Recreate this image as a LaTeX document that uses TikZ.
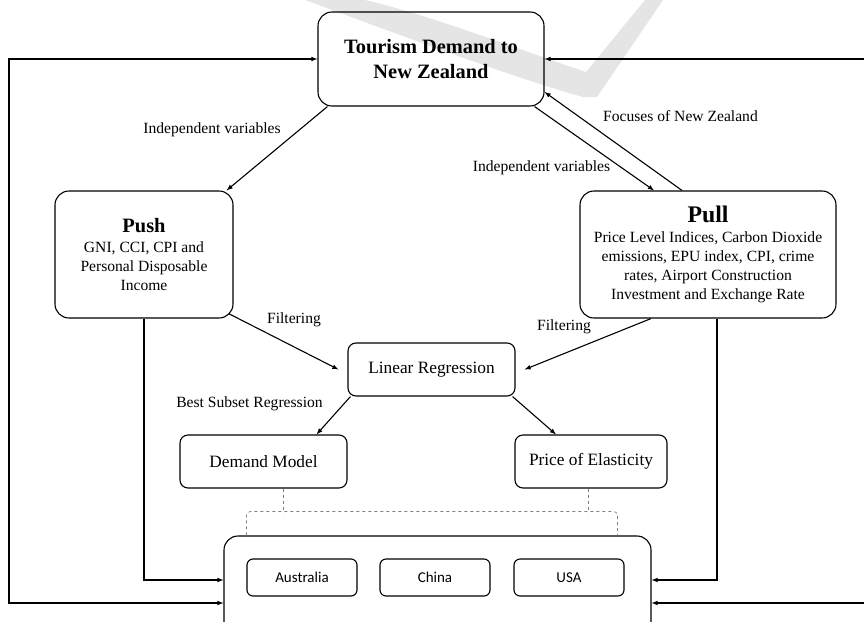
\documentclass[tikz,border=0pt]{standalone}
\usepackage{fontspec}
\setmainfont{Liberation Serif}
\newfontfamily\calib{Carlito}
\tikzset{>=latex}
\tikzset{
  box/.style = {draw, line width=1.1pt, rounded corners=14pt, align=center},
  smallbox/.style = {draw, line width=1.1pt, rounded corners=8pt, align=center,
    minimum height=53pt, font=\fontsize{17.3}{21}\selectfont},
  land/.style = {draw, line width=1.1pt, rounded corners=6pt, minimum width=110pt,
    minimum height=37pt, font=\calib\fontsize{15}{18}\selectfont},
  tag/.style = {font=\fontsize{15.6}{19}\selectfont, inner sep=0pt},
  link/.style = {->, line width=1.1pt},
  brace/.style = {dashed, gray, line width=0.7pt}
}

\begin{document}
\begin{tikzpicture}[x=1pt,y=-1pt]
    \useasboundingbox (0,0) rectangle (864,621);
    % watermark
    \fill[gray!20] (305,0) .. controls (400,35) and (520,80) .. (583,97) -- (597,97)
      -- (663,0) -- (645,0) -- (586,72) .. controls (520,50) and (430,15) .. (365,0) -- cycle;

    \node[box, minimum width=226pt, minimum height=94pt,
      font=\bfseries\fontsize{20.4}{25}\selectfont] (top) at (431,59) {Tourism Demand to\\New Zealand};
    \node[box, minimum width=178pt, minimum height=127pt, font=\fontsize{15.6}{19}\selectfont] (push) at (144,254.5)
      {{\bfseries\fontsize{20.4}{21}\selectfont Push}\\[1pt]GNI, CCI, CPI and\\Personal Disposable\\Income};
    \node[box, minimum width=256pt, minimum height=127pt, font=\fontsize{15.6}{19}\selectfont] (pull) at (708,254.5)
      {{\bfseries\fontsize{23.8}{24}\selectfont Pull}\\[1pt]Price Level Indices, Carbon Dioxide\\emissions, EPU index, CPI, crime\\rates, Airport Construction\\Investment and Exchange Rate};
    \node[smallbox, minimum width=167pt] (lin) at (431.5,369.5) {Linear Regression};
    \node[smallbox, minimum width=167pt] (dem) at (263.5,461.5) {Demand Model};
    \node[smallbox, minimum width=152pt] (elas) at (591,461.5) {Price of Elasticity};
    \node[box, minimum width=427pt, minimum height=110pt] (ctry) at (437.5,591) {};
    \node[land] (aus) at (302,577.5) {Australia};
    \node[land] (chi) at (435,577.5) {China};
    \node[land] (usa) at (569,577.5) {USA};

    \draw[link] ([xshift=10pt]top.south west) -- ([xshift=-7pt]push.north east);
    \draw[link] ([xshift=-10pt]top.south east) -- ([xshift=-54pt]pull.north);
    \draw[link] ([xshift=-26pt]pull.north) -- ([yshift=-33pt]top.east);
    \draw[link] ([xshift=-5pt,yshift=5pt]push.south east) -- ([xshift=-9pt]lin.west);
    \draw[link] ([xshift=-57pt]pull.south) -- ([xshift=9pt]lin.east);
    \draw[link] ([xshift=3pt]lin.south west) -- ([xshift=-31pt]dem.north east);
    \draw[link] ([xshift=-3pt]lin.south east) -- ([xshift=-35pt]elas.north);

    \draw[link] (push.south) |- ([yshift=11pt]ctry.west);
    \draw[link] ([xshift=9pt]pull.south) |- ([yshift=11pt]ctry.east);
    \coordinate (lft) at (9,0);
    \coordinate (rgt) at (870,0);
    \draw[link, <->] (top.west) -- (lft |- top.west) |- ([yshift=-12pt]ctry.west);
    \draw[link, <->] (top.east) -- (rgt |- top.east) |- ([yshift=-12pt]ctry.east);

    \draw[brace] ([xshift=20pt]dem.south) -- ++(0,24);
    \draw[brace] ([xshift=-3pt]elas.south) -- ++(0,24);
    \draw[brace, rounded corners=4pt] ([xshift=23pt]ctry.north west) -- ++(0,-24)
      -| ([xshift=-34pt]ctry.north east);

    \node[tag] (indl) at (212,130) {Independent variables};
    \node[tag] (indr) at (541.5,168) {Independent variables};
    \node[tag] (focus) at (680.5,116) {Focuses of New Zealand};
    \node[tag] (filtl) at (294,320) {Filtering};
    \node[tag] (filtr) at (564,327) {Filtering};
    \node[tag] (best) at (249.5,404) {Best Subset Regression};
\end{tikzpicture}
\end{document}
